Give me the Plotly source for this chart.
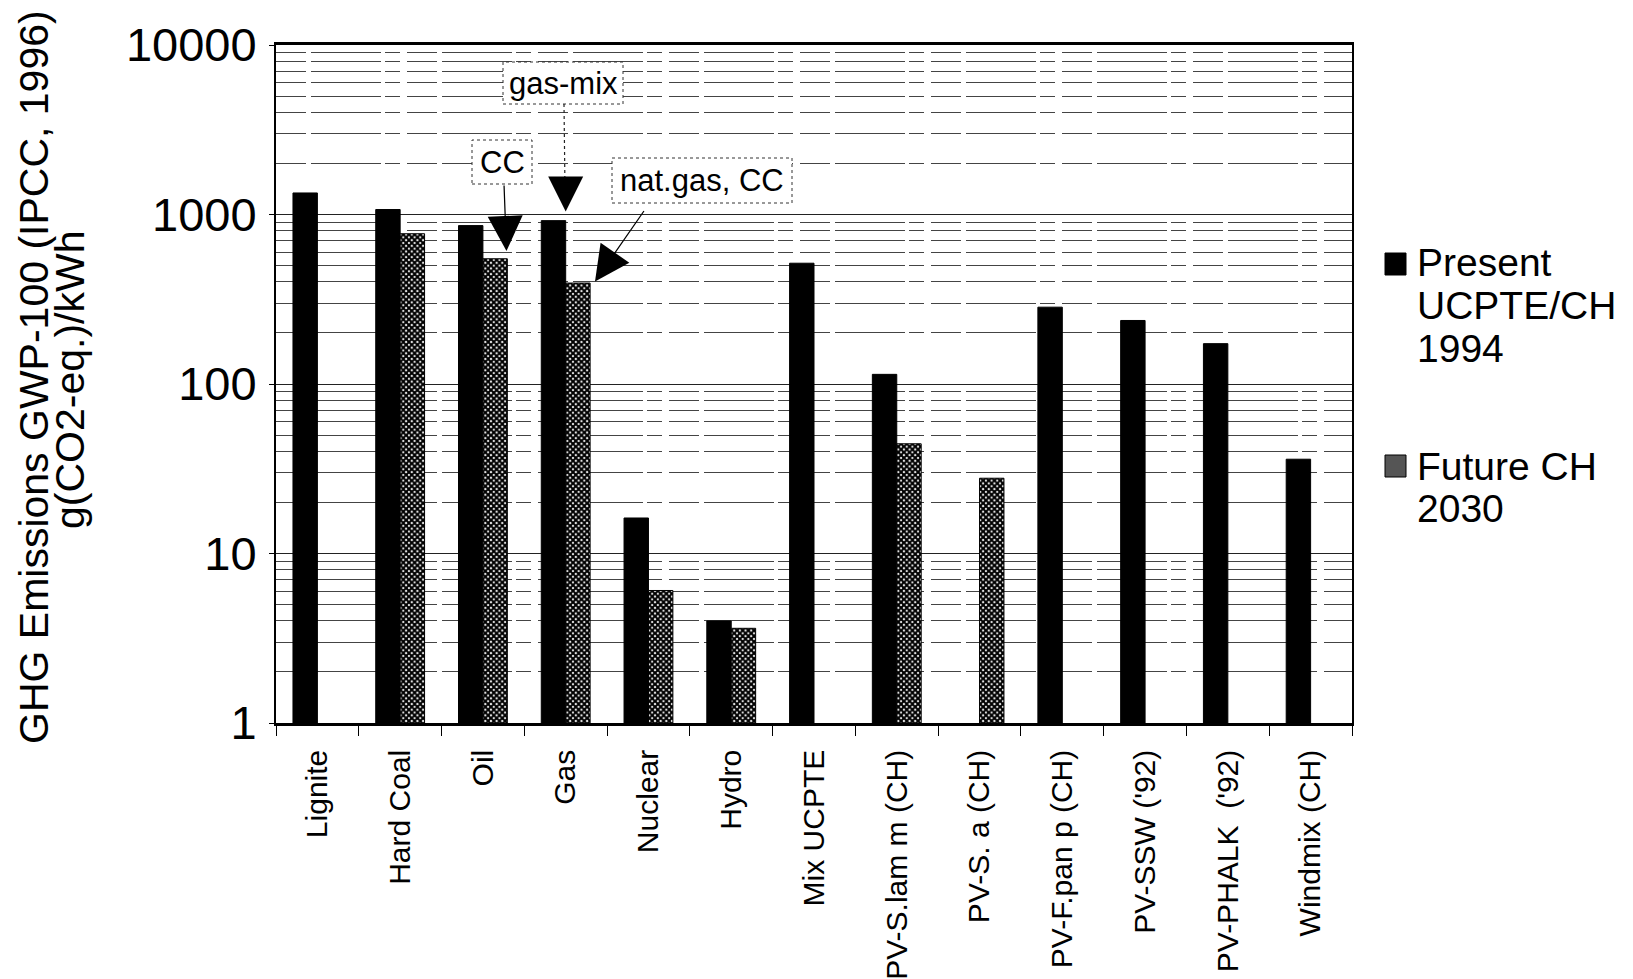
import plotly.graph_objects as go

# ---------------- data ----------------
categories = ["Lignite", "Hard Coal", "Oil", "Gas", "Nuclear", "Hydro", "Mix UCPTE",
              "PV-S.lam m (CH)", "PV-S. a (CH)", "PV-F.pan p (CH)", "PV-SSW ('92)",
              "PV-PHALK\u00a0 ('92)", "Windmix (CH)"]
present_1994 = [1340, 1070, 860, 920, 16.2, 4.0, 516, 114, None, 284, 237, 173, 36]
future_2030 = [None, 770, 548, 394, 6.05, 3.62, None, 44.4, 27.8, None, None, None, None]
present_legend = ["Present", "UCPTE/CH", "1994"]
future_legend = ["Future CH", "2030"]
y_tick_values = [1, 10, 100, 1000, 10000]
y_tick_labels = ["1", "10", "100", "1000", "10000"]
y_title_lines = ["GHG Emissions GWP-100 (IPCC, 1996)", "g(CO2-eq.)/kWh"]
callouts = ["gas-mix", "CC", "nat.gas, CC"]

# ---------------- layout geometry (window pixels) ----------------
WIN_W, WIN_H = 1633, 979
OFF = 8                      # default page body margin
L, R, T, B = 276, 1352, 45, 723
FONT = "Liberation Sans, Arial, Helvetica, sans-serif"


def px(x):
    return (x - L) / (R - L)


def py(y):
    return (B - y) / (B - T)


minor_vals = [m * 10 ** e for e in range(4) for m in range(2, 10)]

fig = go.Figure()
fig.add_trace(go.Bar(
    x=categories, y=present_1994, name=" ".join(present_legend),
    marker=dict(color="black", line=dict(color="black", width=1)),
    showlegend=False,
))
fig.add_trace(go.Bar(
    x=categories, y=future_2030, name=" ".join(future_legend),
    marker=dict(color="white", line=dict(color="black", width=1),
                pattern=dict(shape="x", fgcolor="black", bgcolor="white",
                             size=4, solidity=0.78, fillmode="replace")),
    showlegend=False,
))

shapes = []
annotations = []

# callout boxes (dotted borders)
boxes = [(503, 62, 623, 104), (472, 140, 532, 184), (612, 158, 792, 203)]
centers = [(563, 83), (502, 162), (702, 180.5)]
for (x0, y0, x1, y1), (cx, cy), txt in zip(boxes, centers, callouts):
    shapes.append(dict(type="rect", xref="paper", yref="paper",
                       x0=px(x0), x1=px(x1), y0=py(y1), y1=py(y0),
                       line=dict(color="#333", width=1, dash="dot"),
                       fillcolor="white", layer="above"))
    annotations.append(dict(xref="paper", yref="paper", x=px(cx), y=py(cy),
                            text=txt, showarrow=False, xanchor="center", yanchor="middle",
                            font=dict(size=31, color="black", family=FONT)))

# dotted connector for gas-mix
shapes.append(dict(type="line", xref="paper", yref="paper",
                   x0=px(564), x1=px(565), y0=py(104), y1=py(190),
                   line=dict(color="#222", width=1.2, dash="dot"), layer="above"))

# arrows: (tip_x, tip_y, ax, ay)
arrows = [(565.7, 211.5, 0, -32), (506.5, 251, -2.5, -67), (595, 281.5, 50, -72)]
for tx, ty, ax, ay in arrows:
    annotations.append(dict(xref="paper", yref="paper", x=px(tx), y=py(ty),
                            ax=ax, ay=ay, text="", showarrow=True,
                            arrowhead=2, arrowsize=5.6, arrowwidth=1.25,
                            arrowcolor="black"))

# y-axis title (two separate lines)
for txt, cx, cy in zip(y_title_lines, [34, 70], [377, 380]):
    annotations.append(dict(xref="paper", yref="paper", x=px(cx), y=py(cy),
                            text=txt, textangle=-90, showarrow=False,
                            xanchor="center", yanchor="middle",
                            font=dict(size=41, color="black", family=FONT)))

# manual legend
legend_font = dict(size=39, color="black", family=FONT)
for i, txt in enumerate(present_legend):
    annotations.append(dict(xref="paper", yref="paper", x=px(1415), y=py(262 + 43 * i),
                            text=txt, showarrow=False, xanchor="left", yanchor="middle",
                            font=legend_font))
for i, txt in enumerate(future_legend):
    annotations.append(dict(xref="paper", yref="paper", x=px(1415), y=py(466 + 42 * i),
                            text=txt, showarrow=False, xanchor="left", yanchor="middle",
                            font=legend_font))
shapes.append(dict(type="rect", xref="paper", yref="paper",
                   x0=px(1385), x1=px(1406), y0=py(275), y1=py(253),
                   fillcolor="black", line=dict(color="black", width=1)))
shapes.append(dict(type="rect", xref="paper", yref="paper",
                   x0=px(1385), x1=px(1406), y0=py(477), y1=py(455),
                   fillcolor="#555555", line=dict(color="black", width=1)))

FIG_W, FIG_H = WIN_W - OFF, WIN_H - OFF
fig.update_layout(
    width=FIG_W, height=FIG_H,
    margin=dict(l=L - OFF, r=FIG_W - (R - OFF), t=T - OFF, b=FIG_H - (B - OFF), pad=0),
    paper_bgcolor="white", plot_bgcolor="white",
    barmode="group", bargap=0.41, bargroupgap=0.0,
    font=dict(family=FONT, color="black"),
    shapes=shapes, annotations=annotations,
    showlegend=False,
)
fig.update_xaxes(
    type="category", tickson="boundaries", ticks="outside", ticklen=10,
    tickcolor="black", tickwidth=1.2, tickangle=-90,
    tickfont=dict(size=30, color="black", family=FONT),
    ticklabelstandoff=12, automargin=False,
    showline=True, linecolor="black", linewidth=2.5, mirror=True,
    showgrid=False, zeroline=False,
)
fig.update_yaxes(
    type="log", range=[0, 4], tickvals=y_tick_values, ticktext=y_tick_labels,
    ticks="outside", ticklen=5, tickcolor="black",
    tickfont=dict(size=47, color="black", family=FONT),
    ticklabelstandoff=3, automargin=False,
    showline=True, linecolor="black", linewidth=2, mirror=True,
    showgrid=True, gridcolor="#222", gridwidth=1.2,
    minor=dict(tickvals=minor_vals, showgrid=True, gridcolor="#444", gridwidth=1,
               griddash="30px,5px,70px,4px,15px,7px", ticks=""),
    zeroline=False,
)

fig.write_html("out.html")
